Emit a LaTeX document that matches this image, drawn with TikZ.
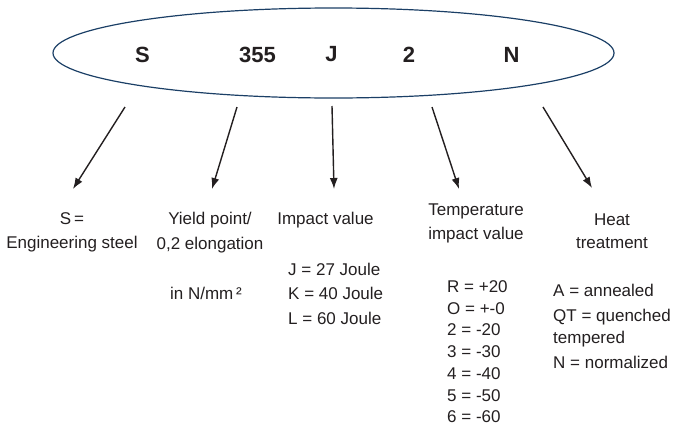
\documentclass[tikz,border=0pt]{standalone}
\usepackage{fontspec}
\setmainfont{Liberation Sans}
\usetikzlibrary{arrows.meta}
\usetikzlibrary{shapes.geometric}
\definecolor{ovalblue}{HTML}{1B3F66}
\definecolor{ink}{HTML}{231F20}
\tikzset{code/.style={font=\fontsize{22}{26}\selectfont\bfseries, text=ink, inner sep=0pt}}
\tikzset{head/.style={font=\fontsize{17}{24.5}\selectfont, text=ink, align=center, anchor=north, inner sep=0pt}}
\tikzset{vals/.style={font=\fontsize{17}{24.5}\selectfont, text=ink, align=left, anchor=north west, inner sep=0pt}}
\tikzset{pointer/.style={-{Latex[length=11pt,width=8pt]}, line width=1.4pt, ink}}

\begin{document}
\begin{tikzpicture}[x=1pt, y=-1pt]
		\useasboundingbox (0,0) rectangle (676,442);
		% the designation
		\node[draw=ovalblue, line width=1.2pt, ellipse, inner sep=0pt, minimum width=561pt, minimum height=90pt] (oval) at (333.5,53) {};
		\node[code] (kS) at (142.5,54.5) {S};
		\node[code] (k355) at (257.5,54.5) {355};
		\node[code] (kJ) at (331.5,54.5) {J};
		\node[code] (k2) at (409,54.5) {2};
		\node[code] (kN) at (511.5,54.5) {N};
		% meanings
		\node[head] (hS) at (72,212) {S\,=\\Engineering steel};
		\node[head] (h355) at (210,212) {Yield point/\\0,2 elongation};
		\node[head] (hJ) at (325.5,212) {Impact value};
		\node[head] (h2) at (476,203.5) {Temperature\\impact value};
		\node[head, font=\fontsize{17}{23}\selectfont] (hN) at (612,213.5) {Heat\\treatment};
		\node[head] (unit) at (206,286.5) {in N/mm\,²};
		\node[vals] (joule) at (288,262.5) {J = 27 Joule\\K = 40 Joule\\L = 60 Joule};
		\node[vals, font=\fontsize{17}{21.7}\selectfont] (temps) at (447,280.5) {R = +20\\O = +-0\\2 = -20\\3 = -30\\4 = -40\\5 = -50\\6 = -60};
		\node[vals, font=\fontsize{17}{22}\selectfont] (heat) at (553,283.5) {A = annealed\\[3pt]QT = quenched\\tempered\\[3pt]N = normalized};
		% arrows
		\coordinate (s1) at (125,107); \coordinate (e1) at (73,189);
		\coordinate (s2) at (237,107); \coordinate (e2) at (212,189);
		\coordinate (s3) at (332,106); \coordinate (e3) at (334,189);
		\coordinate (s4) at (432,107); \coordinate (e4) at (459,189);
		\coordinate (s5) at (543,107); \coordinate (e5) at (592,188);
		\foreach \i in {1,...,5}
			\draw[pointer] (s\i) -- (e\i);
\end{tikzpicture}
\end{document}
